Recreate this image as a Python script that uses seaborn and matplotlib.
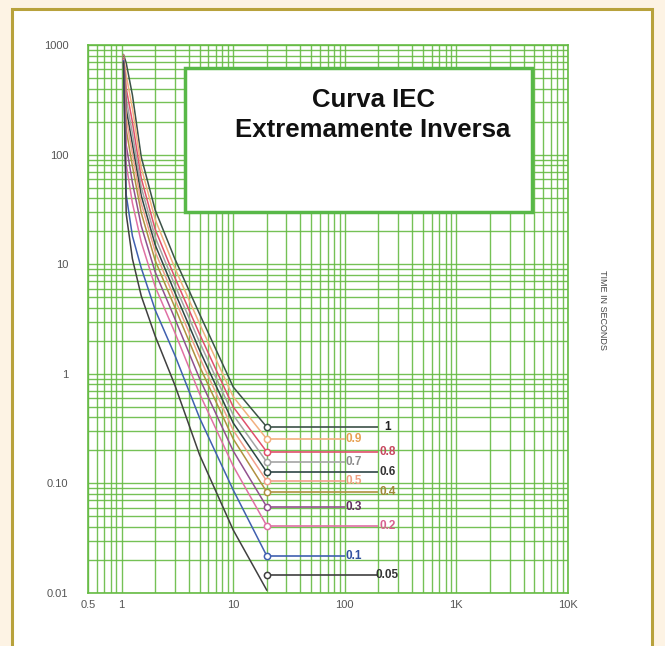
import numpy as np
import pandas as pd
import matplotlib
matplotlib.use("Agg")
import matplotlib.pyplot as plt
from matplotlib.patches import Rectangle
from matplotlib.ticker import FixedLocator, LogLocator, NullFormatter
import seaborn as sns

# ------------------------------------------------------------------
# Données (multiples du courant de réglage / temps en s)
# ------------------------------------------------------------------
multiplos = [1.04, 1.1, 1.25, 1.5, 2, 3, 5, 10, 20]

tms = ["1", "0.9", "0.8", "0.7", "0.6", "0.5", "0.4", "0.3", "0.2", "0.1", "0.05"]

t_100 = [820, 685, 350, 95.1, 31.2, 11.2, 3.51, 0.758, 0.327]
t_090 = [810, 528, 264, 76.4, 25.6, 9.23, 2.86, 0.618, 0.254]
t_080 = [800, 401, 198, 60.7, 20.8, 7.56, 2.30, 0.499, 0.194]
t_070 = [790, 322, 156, 50.4, 17.6, 6.45, 1.94, 0.421, 0.157]
t_060 = [780, 260, 124, 42.2, 15.0, 5.52, 1.64, 0.356, 0.127]
t_050 = [770, 215, 101.5, 35.9, 13.0, 4.80, 1.41, 0.306, 0.105]
t_040 = [760, 169, 78.5, 29.4, 10.8, 4.04, 1.17, 0.255, 0.0835]
t_030 = [750, 122, 55.5, 22.4, 8.47, 3.19, 0.904, 0.198, 0.061]
t_020 = [740, 81.7, 36.1, 15.9, 6.23, 2.38, 0.657, 0.144, 0.041]
t_010 = [720, 42.8, 18.1, 9.23, 3.82, 1.48, 0.395, 0.0871, 0.0218]
t_005 = [700, 28.7, 11.2, 5.13, 2.21, 0.790, 0.182, 0.0376, 0.0106]

# repères des étiquettes (début à M = 20)
marca_m = 20
marca_t = [0.327, 0.254, 0.194, 0.157, 0.127, 0.105, 0.0835, 0.061, 0.041, 0.0218, 0.0146]
fin_linha = [200, 100, 200, 100, 200, 100, 200, 100, 200, 100, 200]

x_ticks = [0.5, 1, 10, 100, 1000, 10000]
x_labels = ["0.5", "1", "10", "100", "1K", "10K"]
y_ticks = [0.01, 0.1, 1, 10, 100, 1000]
y_labels = ["0.01", "0.10", "1", "10", "100", "1000"]

cores_linha = ["#3c5248", "#f2b07e", "#e0506c", "#a4a4a4", "#2f4545", "#f2a08c",
               "#b09040", "#92508e", "#e070a4", "#4060b0", "#404040"]
cores_texto = ["#222222", "#e8a050", "#c84860", "#8c8c8c", "#333333", "#f0a080",
               "#a08838", "#603060", "#d86090", "#3050a0", "#333333"]

series = [t_100, t_090, t_080, t_070, t_060, t_050, t_040, t_030, t_020, t_010, t_005]
df = pd.concat(
    [pd.DataFrame({"M": multiplos, "t": s, "TMS": k}) for k, s in zip(tms, series)],
    ignore_index=True,
)

# ------------------------------------------------------------------
# Figure
# ------------------------------------------------------------------
sns.set_style("white")
plt.rcParams["font.family"] = ["Liberation Sans", "DejaVu Sans"]

fig = plt.figure(figsize=(6.65, 6.46), dpi=100)
fig.patch.set_facecolor("#fdf3e4")
fig.patches.append(Rectangle((12 / 665, -0.02), 640 / 665, 1.02 - 9 / 646,
                             transform=fig.transFigure, facecolor="white",
                             edgecolor="#b8a23c", linewidth=2.2, zorder=-5))

ax = fig.add_axes([88 / 665, 53 / 646, 480 / 665, 548 / 646])
ax.set_zorder(2)
ax.set_facecolor("white")
ax.set_xscale("log")
ax.set_yscale("log")
ax.set_xlim(0.5, 10000)
ax.set_ylim(0.01, 1000)

verde = "#66bb44"
ax.xaxis.set_minor_locator(LogLocator(base=10, subs=np.arange(2, 10)))
ax.yaxis.set_minor_locator(LogLocator(base=10, subs=np.arange(2, 10)))
ax.grid(True, which="both", color=verde, linewidth=1.0, alpha=0.9)
for sp in ax.spines.values():
    sp.set_color(verde)
    sp.set_linewidth(1.2)

sns.lineplot(data=df, x="M", y="t", hue="TMS", hue_order=tms,
             palette=dict(zip(tms, cores_linha)), estimator=None, sort=False,
             linewidth=1.1, legend=False, ax=ax, zorder=3)

# lignes horizontales + repères + étiquettes
for i, k in enumerate(tms):
    ax.hlines(marca_t[i], marca_m, fin_linha[i], color=cores_linha[i],
              linewidth=1.2, zorder=3)
    ax.plot([marca_m], [marca_t[i]], marker="o", markersize=4.5,
            markerfacecolor="white", markeredgecolor=cores_linha[i],
            markeredgewidth=1.1, zorder=4)
    ax.text(fin_linha[i] * 1.2, marca_t[i], k, color=cores_texto[i],
            fontsize=8.5, fontweight="bold", ha="center", va="center", zorder=5)

ax.xaxis.set_major_locator(FixedLocator(x_ticks))
ax.set_xticklabels(x_labels)
ax.yaxis.set_major_locator(FixedLocator(y_ticks))
ax.set_yticklabels(y_labels)
ax.xaxis.set_minor_formatter(NullFormatter())
ax.yaxis.set_minor_formatter(NullFormatter())
ax.tick_params(which="both", length=0, labelsize=8, colors="#555555")
ax.tick_params(axis="y", pad=14)
ax.tick_params(axis="x", pad=5)
ax.set_xlabel("")
ax.set_ylabel("")

# encadré du titre
ax.add_patch(Rectangle((0.202, 0.695), 0.723, 0.263, transform=ax.transAxes,
                       facecolor="white", edgecolor="#58b848", linewidth=2.5,
                       zorder=6))
ax.text(0.594, 0.900, "Curva IEC", transform=ax.transAxes, ha="center",
        va="center", fontsize=18.5, fontweight="bold", color="#111111", zorder=7)
ax.text(0.594, 0.845, "Extremamente Inversa", transform=ax.transAxes,
        ha="center", va="center", fontsize=18.5, fontweight="bold",
        color="#111111", zorder=7)

fig.text(603 / 665, 1 - 310 / 646, "TIME IN SECONDS", rotation=-90,
         ha="center", va="center", fontsize=6.5, color="#444444")

fig.savefig("out.png", dpi=100, facecolor=fig.get_facecolor())
